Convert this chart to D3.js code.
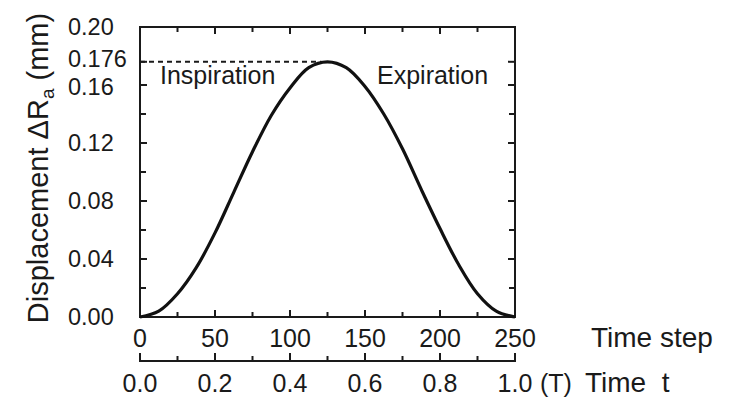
<!DOCTYPE html>
<html>
<head>
<meta charset="utf-8">
<script src="https://cdn.jsdelivr.net/npm/d3@7"></script>
<style>
  body { margin: 0; background: #fff; }
  text { font-family: "Liberation Sans", Arial, sans-serif; fill: #1a1a1a; }
</style>
</head>
<body>
<div id="chart"></div>
<script>
// data
const steps = [0, 12.5, 25, 37.5, 50, 62.5, 75, 87.5, 100, 112.5, 125,
               137.5, 150, 162.5, 175, 187.5, 200, 212.5, 225, 237.5, 250];
const displacement = [0, 0.004, 0.016, 0.034, 0.058, 0.086, 0.114, 0.139, 0.158, 0.172, 0.176,
                      0.172, 0.159, 0.140, 0.116, 0.088, 0.061, 0.036, 0.016, 0.004, 0];
const peakValue = 0.176;
const peakStep = 121;

const yTicks = [0, 0.02, 0.04, 0.06, 0.08, 0.10, 0.12, 0.14, 0.16, 0.176];
const yLabels = [0, 0.04, 0.08, 0.12, 0.16, 0.176, 0.20];
const stepTicks = [0, 25, 50, 75, 100, 125, 150, 175, 200, 225, 250];
const stepLabels = [0, 50, 100, 150, 200, 250];
const timeTicks = [0, 0.1, 0.2, 0.3, 0.4, 0.5, 0.6, 0.7, 0.8, 0.9, 1.0];
const timeLabels = [0, 0.2, 0.4, 0.6, 0.8, 1.0];

const width = 738, height = 404;
const mLeft = 140, mRight = 515, mTop = 27, mBottom = 317;
const axis2 = 361;

const svg = d3.select("#chart").append("svg")
  .attr("width", width)
  .attr("height", height);

const x = d3.scaleLinear().domain([0, 250]).range([mLeft, mRight]);
const t = d3.scaleLinear().domain([0, 1]).range([mLeft, mRight]);
const y = d3.scaleLinear().domain([0, 0.2]).range([mBottom, mTop]);

const ink = "#1a1a1a";

// frame
svg.append("rect")
  .attr("x", mLeft).attr("y", mTop)
  .attr("width", mRight - mLeft).attr("height", mBottom - mTop)
  .attr("fill", "none").attr("stroke", ink).attr("stroke-width", 2);

// inward ticks (bottom + top)
const isMajorStep = d => d % 50 === 0;
stepTicks.filter(d => d > 0 && d < 250).forEach(d => {
  const len = isMajorStep(d) ? 7 : 5;
  svg.append("line").attr("x1", x(d)).attr("x2", x(d))
    .attr("y1", mBottom).attr("y2", mBottom - len)
    .attr("stroke", ink).attr("stroke-width", 2);
  svg.append("line").attr("x1", x(d)).attr("x2", x(d))
    .attr("y1", mTop).attr("y2", mTop + len)
    .attr("stroke", ink).attr("stroke-width", 2);
});

// inward ticks (left + right)
yTicks.filter(d => d > 0).forEach(d => {
  const len = yLabels.includes(d) ? 7 : 6;
  svg.append("line").attr("x1", mLeft).attr("x2", mLeft + len)
    .attr("y1", y(d)).attr("y2", y(d))
    .attr("stroke", ink).attr("stroke-width", 2);
  svg.append("line").attr("x1", mRight).attr("x2", mRight - len)
    .attr("y1", y(d)).attr("y2", y(d))
    .attr("stroke", ink).attr("stroke-width", 2);
});

// y labels, left aligned like the original; the two crowded ones nudged apart
const nudge = d => d === 0.176 ? -3 : d === 0.16 ? 2 : 0;
svg.append("g").selectAll("text")
  .data(yLabels)
  .join("text")
  .attr("x", 68)
  .attr("y", d => y(d) + nudge(d))
  .attr("dy", "0.36em")
  .attr("font-size", 23.5)
  .text(d => d === 0.176 ? "0.176" : d3.format(".2f")(d));

// step labels
svg.append("g").selectAll("text")
  .data(stepLabels)
  .join("text")
  .attr("x", d => x(d))
  .attr("y", 347)
  .attr("text-anchor", "middle")
  .attr("font-size", 25)
  .text(d => d);

svg.append("text")
  .attr("x", 591).attr("y", 347)
  .attr("font-size", 28)
  .text("Time step");

// second axis: time t
svg.append("line")
  .attr("x1", mLeft).attr("x2", mRight)
  .attr("y1", axis2).attr("y2", axis2)
  .attr("stroke", ink).attr("stroke-width", 2);

timeTicks.forEach(d => {
  const major = Math.round(d * 10) % 2 === 0;
  svg.append("line").attr("x1", t(d)).attr("x2", t(d))
    .attr("y1", axis2 + 1).attr("y2", axis2 - (major ? 8 : 5))
    .attr("stroke", ink).attr("stroke-width", 2);
});

svg.append("g").selectAll("text")
  .data(timeLabels)
  .join("text")
  .attr("x", d => t(d))
  .attr("y", 392)
  .attr("text-anchor", "middle")
  .attr("font-size", 25)
  .text(d => d3.format(".1f")(d));

svg.append("text")
  .attr("x", 540).attr("y", 392)
  .attr("font-size", 25)
  .text("(T)");

svg.append("text")
  .attr("x", 585).attr("y", 392)
  .attr("font-size", 28)
  .attr("xml:space", "preserve")
  .text("Time  t");

// y axis title
const yTitle = svg.append("text")
  .attr("transform", `translate(48,168) rotate(-90)`)
  .attr("text-anchor", "middle")
  .attr("font-size", 29);
yTitle.append("tspan").text("Displacement \u0394R");
yTitle.append("tspan").attr("font-size", 19).attr("dy", 6).text("a");
yTitle.append("tspan").attr("dy", -6).text(" (mm)");

// dashed peak guide
svg.append("line")
  .attr("x1", mLeft).attr("x2", x(peakStep))
  .attr("y1", y(peakValue)).attr("y2", y(peakValue))
  .attr("stroke", ink).attr("stroke-width", 2)
  .attr("stroke-dasharray", "5,4");

// curve
const line = d3.line()
  .x((d, i) => x(steps[i]))
  .y(d => y(d))
  .curve(d3.curveCatmullRom.alpha(0.5));

svg.append("path")
  .datum(displacement)
  .attr("d", line)
  .attr("fill", "none")
  .attr("stroke", "#111")
  .attr("stroke-width", 3.2);

// phase labels
svg.append("text")
  .attr("x", 160).attr("y", 84)
  .attr("font-size", 25)
  .text("Inspiration");

svg.append("text")
  .attr("x", 377).attr("y", 84)
  .attr("font-size", 25)
  .text("Expiration");
</script>
</body>
</html>
